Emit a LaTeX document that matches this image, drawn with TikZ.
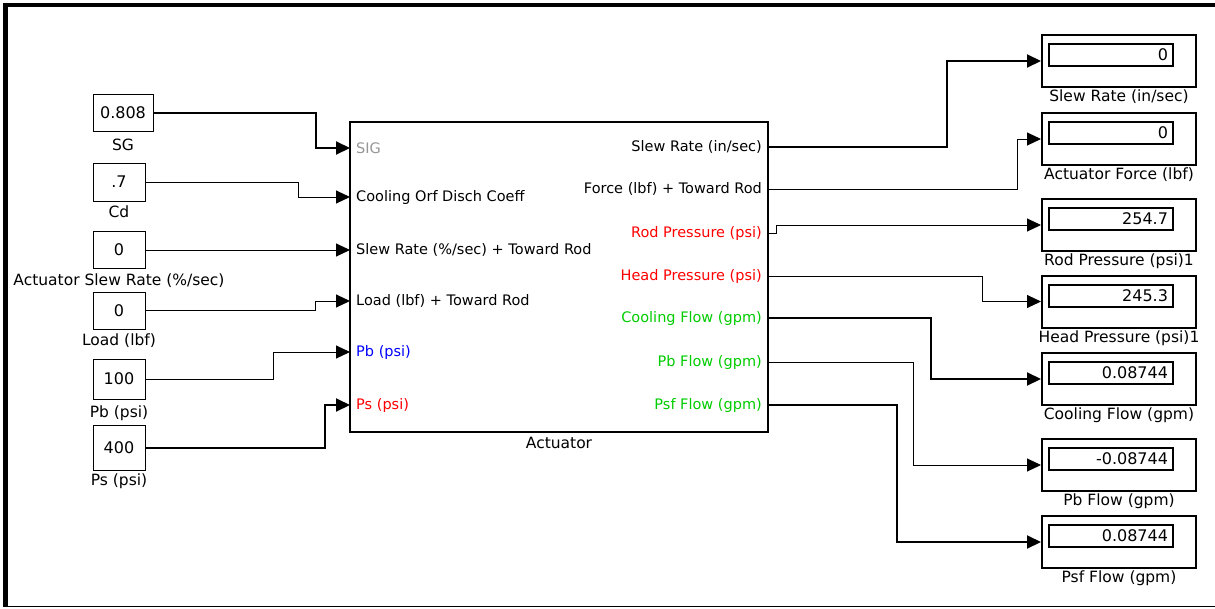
\documentclass[tikz,border=0pt]{standalone}
\usepackage{fontspec}
\setmainfont{DejaVu Sans}
\usetikzlibrary{positioning,arrows.meta}
\definecolor{simred}{RGB}{255,0,0}
\definecolor{simblue}{RGB}{0,0,255}
\definecolor{simgreen}{RGB}{0,204,0}
\definecolor{simgray}{RGB}{150,150,150}

\begin{document}
\begin{tikzpicture}[x=1pt, y=-1pt, font=\fontsize{14.5}{17}\selectfont,
  node distance=4pt,
  const/.style={draw, line width=1pt, minimum width=52pt, minimum height=37pt, inner sep=2pt,
                font=\fontsize{16}{18}\selectfont},
  blk/.style={draw, line width=1.3pt, minimum width=418pt, minimum height=310pt},
  dispbox/.style={draw, line width=2pt, minimum width=154pt, minimum height=52pt, inner sep=0pt},
  dispval/.style={draw, line width=2pt, text width=114pt, align=right,
                  minimum height=22pt, inner xsep=5pt, inner ysep=1pt,
                  font=\fontsize{16}{18}\selectfont},
  lbl/.style={inner sep=1pt, font=\fontsize{15.5}{18}\selectfont},
  pname/.style={inner sep=1pt},
  wire/.style={line width=1pt, -{Triangle[length=14pt,width=13pt]}},
  bus/.style={wire, line width=2pt}]
\useasboundingbox (0,0) rectangle (1215,608);
\fill (3,3) rectangle (1215,7);
\fill (3,3) rectangle (8,607);
\fill (3,605.5) rectangle (1215,607);
% constants
\node[const, minimum width=60pt] (sg) at (123,112.5) {0.808};
\node[const, minimum height=38pt] (cd) at (119,182) {.7};
\node[const] (asr) at (119,250) {0};
\node[const] (load) at (119,310.5) {0};
\node[const, minimum height=40pt] (pb) at (119,379) {100};
\node[const, minimum height=45pt] (ps) at (119,447.5) {400};
\node[lbl, below=6pt of sg] (sglbl) {SG};
\node[lbl, below=3pt of cd] (cdlbl) {Cd};
\node[lbl, below=4pt of asr] (asrlbl) {Actuator Slew Rate (\%/sec)};
\node[lbl, below=3pt of load] (loadlbl) {Load (lbf)};
\node[lbl, below=5pt of pb] (pblbl) {Pb (psi)};
\node[lbl, below=2pt of ps] (pslbl) {Ps (psi)};
% actuator block
\node[blk] (act) at (559,277) {};
\node[lbl, below=3pt of act] (actlbl) {Actuator};
\coordinate (in1) at (350,148);
\coordinate (in2) at (350,197);
\coordinate (in3) at (350,250);
\coordinate (in4) at (350,301);
\coordinate (in5) at (350,352);
\coordinate (in6) at (350,405);
\coordinate (o1) at (768,147);
\coordinate (o2) at (768,189);
\coordinate (o3) at (768,233);
\coordinate (o4) at (768,276);
\coordinate (o5) at (768,318);
\coordinate (o6) at (768,362);
\coordinate (o7) at (768,405);
\node[pname, right=5pt of in1, text=simgray] (pin1) {SIG};
\node[pname, right=5pt of in2] (pin2) {Cooling Orf Disch Coeff};
\node[pname, right=5pt of in3] (pin3) {Slew Rate (\%/sec) + Toward Rod};
\node[pname, right=5pt of in4] (pin4) {Load (lbf) + Toward Rod};
\node[pname, right=5pt of in5, text=simblue] (pin5) {Pb (psi)};
\node[pname, right=5pt of in6, text=simred] (pin6) {Ps (psi)};
\node[pname, left=5pt of o1] (pout1) {Slew Rate (in/sec)};
\node[pname, left=5pt of o2] (pout2) {Force (lbf) + Toward Rod};
\node[pname, left=5pt of o3, text=simred] (pout3) {Rod Pressure (psi)};
\node[pname, left=5pt of o4, text=simred] (pout4) {Head Pressure (psi)};
\node[pname, left=5pt of o5, text=simgreen] (pout5) {Cooling Flow (gpm)};
\node[pname, left=5pt of o6, text=simgreen] (pout6) {Pb Flow (gpm)};
\node[pname, left=5pt of o7, text=simgreen] (pout7) {Psf Flow (gpm)};
% displays
\node[dispbox] (dslew) at (1119,61) {};
\node[dispbox] (dforce) at (1119,139) {};
\node[dispbox] (drod) at (1119,225) {};
\node[dispbox] (dhead) at (1119,301.5) {};
\node[dispbox] (dcool) at (1119,379) {};
\node[dispbox] (dpbf) at (1119,465) {};
\node[dispbox] (dpsf) at (1119,542) {};
\node[dispval] (vslew) at ([shift={(-8,-6)}]dslew.center) {0};
\node[dispval] (vforce) at ([shift={(-8,-6)}]dforce.center) {0};
\node[dispval] (vrod) at ([shift={(-8,-6)}]drod.center) {254.7};
\node[dispval] (vhead) at ([shift={(-8,-6)}]dhead.center) {245.3};
\node[dispval] (vcool) at ([shift={(-8,-6)}]dcool.center) {0.08744};
\node[dispval] (vpbf) at ([shift={(-8,-6)}]dpbf.center) {-0.08744};
\node[dispval] (vpsf) at ([shift={(-8,-6)}]dpsf.center) {0.08744};
\node[lbl, below=1pt of dslew] (lslew) {Slew Rate (in/sec)};
\node[lbl, below=1pt of dforce] (lforce) {Actuator Force (lbf)};
\node[lbl, below=1pt of drod] (lrod) {Rod Pressure (psi)1};
\node[lbl, below=1pt of dhead] (lhead) {Head Pressure (psi)1};
\node[lbl, below=1pt of dcool] (lcool) {Cooling Flow (gpm)};
\node[lbl, below=1pt of dpbf] (lpbf) {Pb Flow (gpm)};
\node[lbl, below=1pt of dpsf] (lpsf) {Psf Flow (gpm)};
% wires
\draw[bus] (sg.east) -- ++(162,0) |- (in1);
\draw[wire] (cd.east) -- ++(153,0) |- (in2);
\draw[wire] (asr.east) -- (in3);
\draw[wire] (load.east) -- ++(170,0) |- (in4);
\draw[wire] (pb.east) -- ++(128,0) |- (in5);
\draw[bus] (ps.east) -- ++(179,0) |- (in6);
\draw[bus] (o1) -- ++(179,0) |- (dslew.west);
\draw[wire] (o2) -- ++(249,0) |- (dforce.west);
\draw[wire] (o3) -- ++(8,0) |- (drod.west);
\draw[wire] (o4) -- ++(214,0) |- (dhead.west);
\draw[bus] (o5) -- ++(163,0) |- (dcool.west);
\draw[wire] (o6) -- ++(145,0) |- (dpbf.west);
\draw[bus] (o7) -- ++(129,0) |- (dpsf.west);
\end{tikzpicture}
\end{document}
